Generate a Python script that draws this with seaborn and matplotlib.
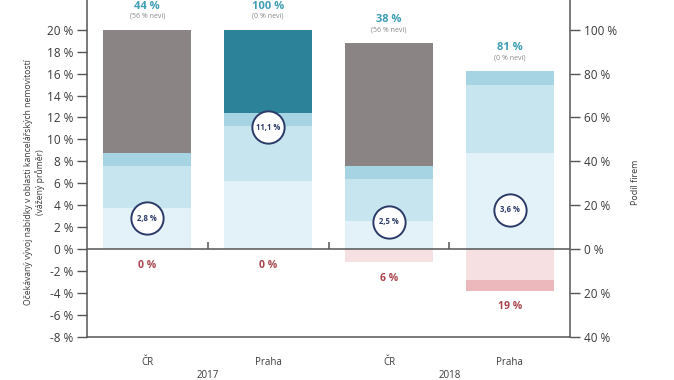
import numpy as np
import pandas as pd
import seaborn as sns
import matplotlib.pyplot as plt
import matplotlib.transforms as mtransforms

# data (podíl firem in %, right axis)
places = ["ČR", "Praha", "ČR", "Praha"]
years = ["2017", "2017", "2018", "2018"]
lightest = [19, 31, 13, 44]
light = [19, 25, 19, 31]
medium = [6, 6, 6, 6]
strong = [0, 38, 0, 0]
nevi = [56, 0, 56, 0]
decline_mild = [0, 0, 6, 14]
decline_strong = [0, 0, 0, 5]
# weighted average (left axis, %)
avg = [2.8, 11.1, 2.5, 3.6]
avg_labels = ["2,8 %", "11,1 %", "2,5 %", "3,6 %"]
pos_labels = ["44 %", "100 %", "38 %", "81 %"]
nevi_labels = ["(56 % neví)", "(0 % neví)", "(56 % neví)", "(0 % neví)"]
neg_labels = ["0 %", "0 %", "6 %", "19 %"]

sns.set_style("white")
plt.rcParams['font.family'] = ['Open Sans', 'DejaVu Sans']

df = pd.DataFrame({"x": range(4), "lightest": lightest, "light": light, "medium": medium,
                   "strong": strong, "nevi": nevi, "dm": decline_mild, "ds": decline_strong})
df["c1"] = df["lightest"]
df["c2"] = df["c1"] + df["light"]
df["c3"] = df["c2"] + df["medium"]
df["c4"] = df["c3"] + df["strong"]
df["c5"] = df["c4"] + df["nevi"]
df["n1"] = -df["dm"]
df["n2"] = df["n1"] - df["ds"]

fig = plt.figure(figsize=(6.74, 3.8), dpi=100)
ax = fig.add_axes([0.129, 0.113, 0.717, 0.887])
ax2 = ax.twinx()
ax.set_zorder(ax2.get_zorder() + 1)
ax.patch.set_visible(False)

layers = [("c5", "#8a8584"), ("c4", "#2b8299"), ("c3", "#a6d4e3"), ("c2", "#c6e5ef"),
          ("c1", "#e3f2f9"), ("n2", "#ecb8bb"), ("n1", "#f7e0e1")]
for col, c in layers:
    sns.barplot(data=df, x="x", y=col, color=c, width=0.73, saturation=1,
                errorbar=None, ax=ax2, linewidth=0)

txt = "#3a3a3a"
ax.set_ylim(-8, 22.7)
ax2.set_ylim(-40, 113.5)
ax.set_xlim(-0.5, 3.5)
ax2.set_xlim(-0.5, 3.5)

ax.set_yticks(range(-8, 21, 2))
ax.set_yticklabels([f"{v} %" for v in range(-8, 21, 2)])
ax2.set_yticks(range(-40, 101, 20))
ax2.set_yticklabels([f"{abs(v)} %" for v in range(-40, 101, 20)])
for a in (ax, ax2):
    a.tick_params(axis="y", length=7, width=1, color="#555555", labelsize=8.5,
                  labelcolor=txt, pad=3)
    a.set_xlabel("")
    for s in a.spines.values():
        s.set_visible(False)
ax.spines["left"].set_visible(True)
ax.spines["bottom"].set_visible(True)
ax2.spines["right"].set_visible(True)
for s in (ax.spines["left"], ax.spines["bottom"], ax2.spines["right"]):
    s.set_color("#555555")
    s.set_linewidth(1.1)
ax2.set_ylabel("")
ax2.tick_params(axis="x", bottom=False, labelbottom=False, top=False, labeltop=False)

ax.set_xticks(range(4))
ax.set_xticklabels(places)
ax.tick_params(axis="x", length=0, pad=14, labelsize=7, labelcolor=txt, labelbottom=True)
trans = mtransforms.blended_transform_factory(ax.transData, ax.transAxes)
ax.text(0.5, -0.115, "2017", transform=trans, ha="center", va="center", fontsize=7, color=txt)
ax.text(2.5, -0.115, "2018", transform=trans, ha="center", va="center", fontsize=7, color=txt)

# zero line and small ticks
ax.axhline(0, color="#555555", lw=1.1)
ax.vlines([0.5, 1.5, 2.5], 0, 0.65, color="#555555", lw=1.1)

ax.set_ylabel("Očekávaný vývoj nabídky v oblasti kancelářských nemovitostí\n(vážený průměr)",
              fontsize=6.2, color=txt, linespacing=1.3)
ax.yaxis.set_label_coords(-0.087, 0.46)
ax2.set_ylabel("Podíl firem", fontsize=6.5, color=txt, rotation=90)
ax2.yaxis.set_label_coords(1.125, 0.46)

# circles with weighted averages
ax.scatter(range(4), avg, s=540, facecolor="white", edgecolor="#2b3a67", linewidth=1.4, zorder=5)
for i in range(4):
    ax.text(i, avg[i], avg_labels[i], ha="center", va="center", fontsize=5.5,
            fontweight="bold", color="#2b3a67", zorder=6)

# labels above / below bars
for i in range(4):
    top = df["c3"][i] + df["strong"][i] + df["nevi"][i]
    ax2.annotate(pos_labels[i], (i, top), xytext=(0, 17), textcoords="offset points",
                 ha="center", va="center", fontsize=8, fontweight="bold", color="#3f9db5")
    ax2.annotate(nevi_labels[i], (i, top), xytext=(0, 9.5), textcoords="offset points",
                 ha="center", va="center", fontsize=5, color="#888888")
    ax2.annotate(neg_labels[i], (i, df["n2"][i]), xytext=(0, -11.5), textcoords="offset points",
                 ha="center", va="center", fontsize=7.5, fontweight="bold", color="#a8444c")

fig.savefig("out.png", dpi=100)
